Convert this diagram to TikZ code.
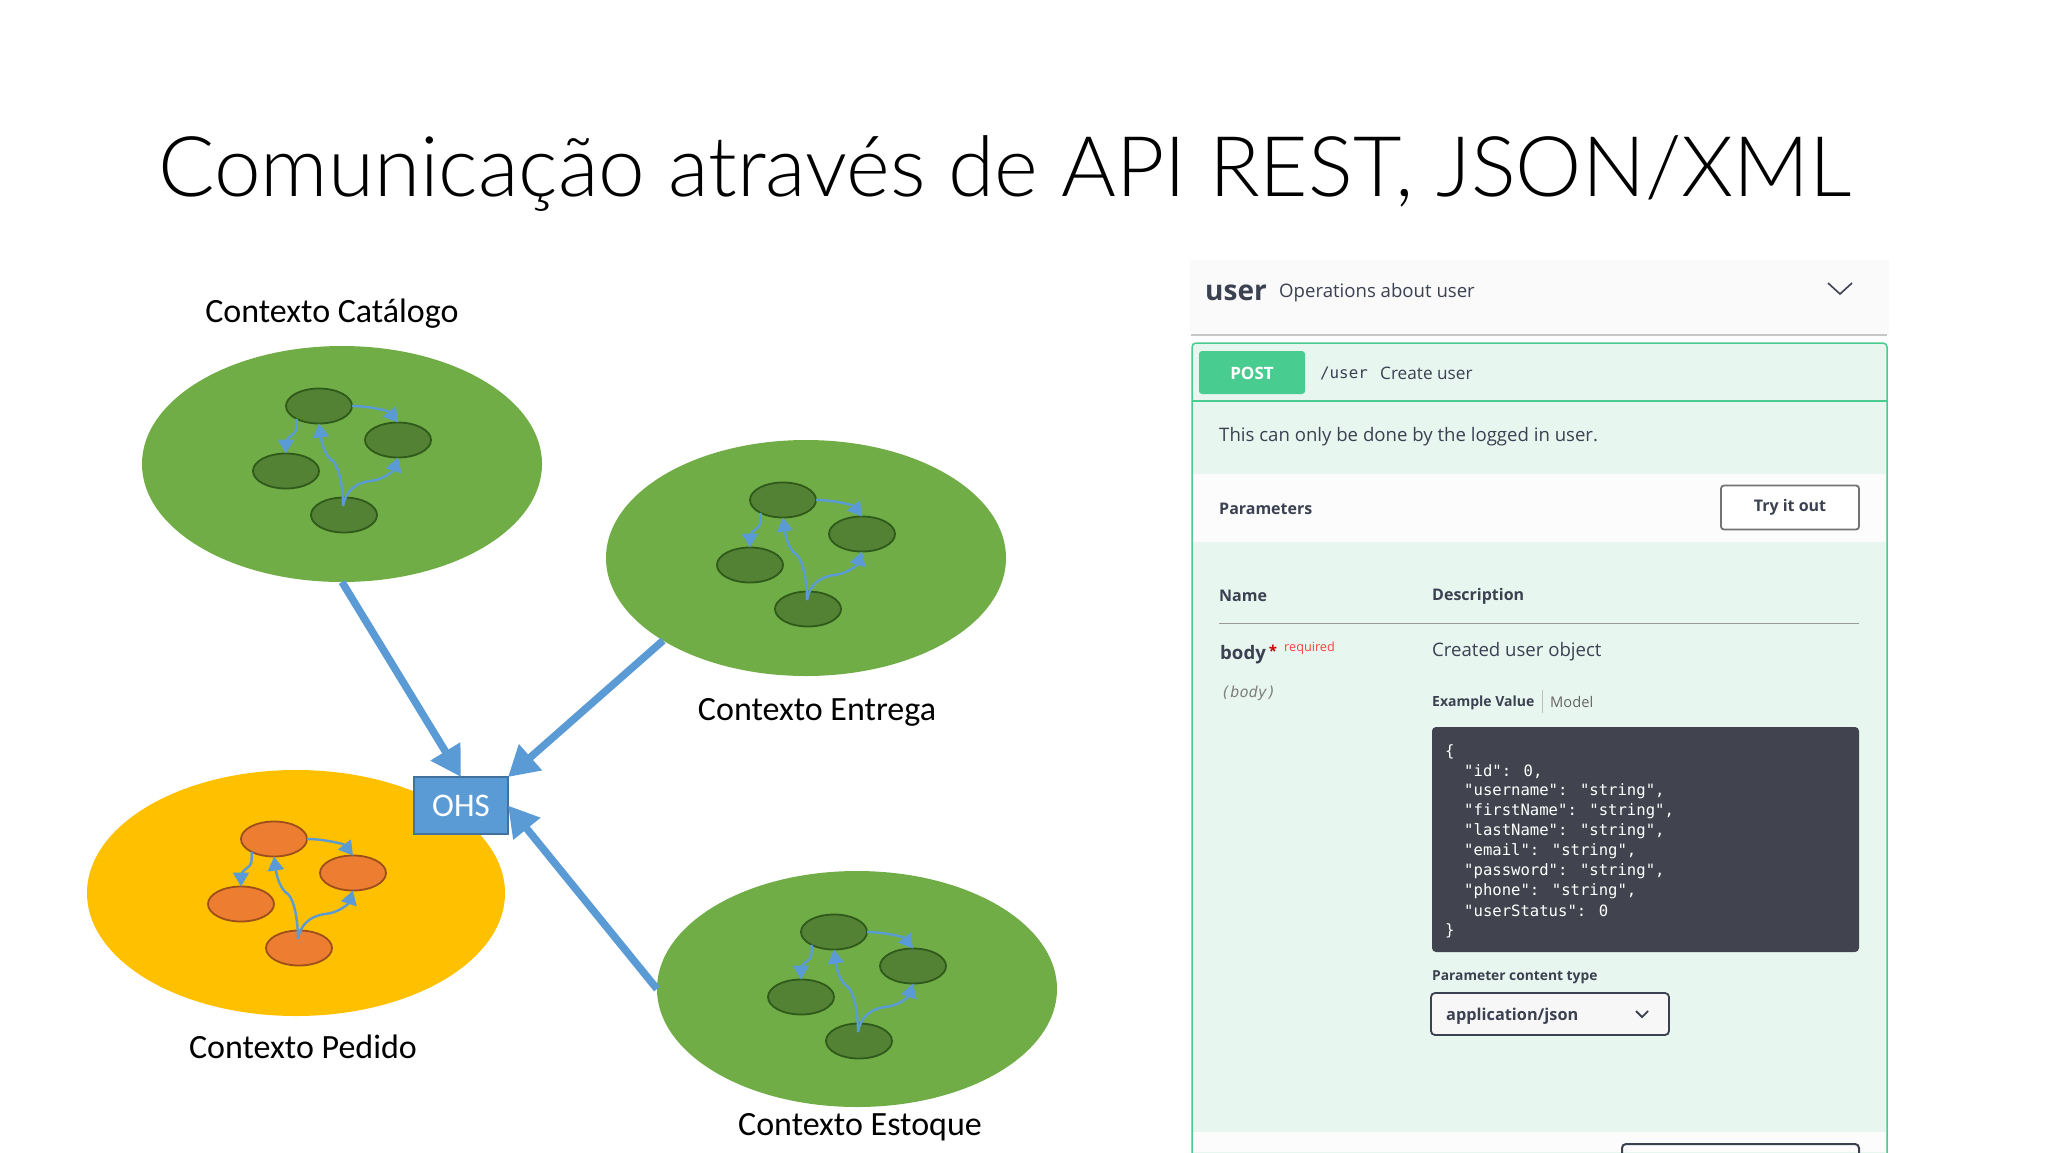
\documentclass[tikz,border=0pt]{standalone}
\usepackage{fontspec}
\setmainfont{Carlito}
\newfontfamily\titlefont{Lato Light}
\newfontfamily\uifont{Open Sans}
\newfontfamily\codefont{DejaVu Sans Mono}
\usetikzlibrary{arrows.meta,shapes.geometric}
\definecolor{bigGreen}{HTML}{70AD47}
\definecolor{smallGreen}{HTML}{548235}
\definecolor{edgeGreen}{HTML}{2F5A1A}
\definecolor{bigYellow}{HTML}{FFC000}
\definecolor{smallOrange}{HTML}{ED7D31}
\definecolor{edgeOrange}{HTML}{9C4F1B}
\definecolor{arrowBlue}{HTML}{5B9BD5}
\definecolor{ohsEdge}{HTML}{41719C}
\definecolor{postGreen}{HTML}{49CC90}
\definecolor{postBg}{HTML}{E8F6F0}
\definecolor{inkDark}{HTML}{3B4151}
\definecolor{codeBg}{HTML}{41444E}
\tikzset{
  bigblob/.style={ellipse, inner sep=0pt, outer sep=0pt, minimum width=400pt, minimum height=236pt},
  smallblob/.style={ellipse, draw, line width=1.8pt, inner sep=0pt, outer sep=0pt, minimum width=66pt, minimum height=35pt},
  mainarrow/.style={draw=arrowBlue, line width=7.5pt, -{Triangle[length=30pt,width=33pt]}},
  innerarrow/.style={draw=arrowBlue, line width=2.4pt, -{Triangle[length=14pt,width=16pt]}},
  ctxlabel/.style={font=\fontsize{34}{40}\selectfont, text=black, inner sep=0pt},
  uilabel/.style={anchor=west, inner sep=0pt, text=inkDark, font=\uifont\fontsize{18.6}{23}\selectfont},
  uibold/.style={uilabel, font=\uifont\bfseries\fontsize{16}{20}\selectfont},
  codeline/.style={anchor=west, inner sep=0pt, text=white, font=\codefont\fontsize{15.6}{18}\selectfont},
}
\begin{document}
\begin{tikzpicture}[x=1pt, y=-1pt]
\useasboundingbox (0,0) rectangle (2048,1152);
\clip (0,0) rectangle (2048,1152);
\node[inner sep=0pt, font=\titlefont\fontsize{83.7}{100}\selectfont, text=black] (title) at (1005,174) {Comunicação através de API REST, JSON/XML};
% contexts
\node[bigblob, fill=bigGreen] (catalogo) at (342,464) {};
\node[bigblob, fill=bigGreen] (entrega) at (806,558) {};
\node[bigblob, fill=bigGreen] (estoque) at (857,989) {};
\node[bigblob, fill=bigYellow, minimum width=418pt, minimum height=246pt] (pedido) at (296,893) {};
\node[ctxlabel] (catalogolabel) at (332,314) {Contexto Catálogo};
\node[ctxlabel] (entregalabel) at (817,712) {Contexto Entrega};
\node[ctxlabel] (pedidolabel) at (303,1047) {Contexto Pedido};
\node[ctxlabel] (estoquelabel) at (860,1127) {Contexto Estoque};
\foreach \nm/\bx/\by/\blobcol/\edgecol in {cat/344/515/smallGreen/edgeGreen, ent/808/609/smallGreen/edgeGreen, est/859/1041/smallGreen/edgeGreen, ped/299/948/smallOrange/edgeOrange} {
  \begin{scope}[shift={(\bx,\by)}]
    \node[smallblob, fill=\blobcol, draw=\edgecol] (\nm-top) at (-25,-109) {};
    \node[smallblob, fill=\blobcol, draw=\edgecol] (\nm-right) at (54,-75) {};
    \node[smallblob, fill=\blobcol, draw=\edgecol] (\nm-left) at (-58,-44) {};
    \node[smallblob, fill=\blobcol, draw=\edgecol] (\nm-bottom) at (0,0) {};
    \coordinate (\nm-start) at (-1,-9);
    \draw[innerarrow] (\nm-top.east) .. controls (25,-109) and (45,-104) .. (\nm-right.north);
    \draw[innerarrow] (\nm-top.210) .. controls (-47,-84) and (-48,-83) .. (-52,-80) .. controls (-57,-77) and (-58,-72) .. (\nm-left.north);
    \draw[innerarrow] (\nm-start) .. controls (-1,-25) and (-4,-47) .. (-11,-54) .. controls (-18,-58) and (-22,-70) .. (\nm-top.south);
    \draw[innerarrow] (\nm-start) .. controls (1,-22) and (10,-32) .. (26,-34) .. controls (40,-35) and (50,-45) .. (\nm-right.south);
  \end{scope}
}
\node[draw=ohsEdge, line width=1.6pt, fill=arrowBlue, text=white, inner sep=0pt, outer sep=0pt, minimum width=94pt, minimum height=57pt, font=\fontsize{33}{38}\selectfont] (ohs) at (461,805.5) {OHS};
\draw[mainarrow] (catalogo.south) -- (ohs.north);
\draw[mainarrow] (entrega.210) -- (ohs.north east);
\draw[mainarrow] (estoque.west) -- (ohs.east);
% swagger panel
\fill[black!2] (1190,260) rectangle (1889,335);
\draw[black!22, line width=1.5pt] (1191,335) -- (1887,335);
\node[uilabel, font=\uifont\bfseries\fontsize{28}{34}\selectfont] (usertag) at (1205,293) {user};
\node[uilabel] (userdesc) at (1279,293) {Operations about user};
\draw[inkDark, line width=1.6pt] (1828,283) -- (1840,294) -- (1852,283);
\draw[postGreen, fill=postBg, line width=1.5pt, rounded corners=4pt] (1192,343) rectangle (1887,1175);
\fill[postGreen, rounded corners=3pt] (1199,351) rectangle (1305,394);
\node[inner sep=0pt, text=white, font=\uifont\bfseries\fontsize{17}{22}\selectfont] (post) at (1252,373) {POST};
\node[uilabel, font=\codefont\fontsize{15.8}{18}\selectfont] (path) at (1320,373) {/user};
\node[uilabel, font=\uifont\fontsize{17.2}{22}\selectfont] (summary) at (1380,373) {Create user};
\draw[postGreen, line width=1.5pt] (1192,401) -- (1887,401);
\node[uilabel] (note) at (1219,437) {This can only be done by the logged in user.};
\fill[black!1] (1193,474) rectangle (1886,542);
\node[uibold] (params) at (1219,509) {Parameters};
\node[draw=black!55, line width=1.8pt, rounded corners=3pt, fill=white, inner sep=0pt, outer sep=0pt, minimum width=138pt, minimum height=44pt, text=inkDark, font=\uifont\bfseries\fontsize{16}{21}\selectfont] (tryit) at (1790,507.5) {Try it out};
\node[uibold] (namehead) at (1219,596) {Name};
\node[uibold] (deschead) at (1432,596) {Description};
\draw[black!40, line width=1pt] (1219,623) -- (1859,623);
\node[uilabel, font=\uifont\bfseries\fontsize{18.6}{25}\selectfont] (bodyname) at (1220,655) {body};
\node[inner sep=0pt, text=red!80!black, font=\uifont\bfseries\fontsize{15}{18}\selectfont] (star) at (1273,651) {*};
\node[uilabel, text=red!75, font=\uifont\fontsize{12.7}{15}\selectfont] (required) at (1284,648) {required};
\node[uilabel] (bodydesc) at (1432,652) {Created user object};
\node[uilabel, text=black!50, font=\codefont\itshape\fontsize{15.2}{18}\selectfont] (bodyin) at (1221,693) {(body)};
\node[uibold, font=\uifont\bfseries\fontsize{14}{20}\selectfont] (examplev) at (1432,703) {Example Value};
\draw[black!25, line width=1pt] (1542,690) -- (1542,713);
\node[uilabel, text=black!60, font=\uifont\fontsize{14.7}{20}\selectfont] (model) at (1550,702) {Model};
\fill[codeBg, rounded corners=4pt] (1432,727) rectangle (1859,952);
\foreach \txt [count=\i from 0] in {\{,  "id": 0{,},  "username": "string"{,},  "firstName": "string"{,},  "lastName": "string"{,},  "email": "string"{,},  "password": "string"{,},  "phone": "string"{,},  "userStatus": 0,\}} {
  \pgfmathsetmacro{\rowy}{752+19.85*\i}
  \ifnum\i=0 \node[codeline] (code\i) at (1445,\rowy) {\txt};
  \else\ifnum\i=9 \node[codeline] (code\i) at (1445,\rowy) {\txt};
  \else \node[codeline] (code\i) at (1464,\rowy) {\txt};
  \fi\fi
}
\node[uibold, font=\uifont\bfseries\fontsize{13.8}{20}\selectfont] (ctype) at (1432,977) {Parameter content type};
\node[draw=inkDark, line width=1.8pt, rounded corners=4pt, fill=black!3, inner sep=0pt, outer sep=0pt, minimum width=238pt, minimum height=42pt] (select) at (1550,1014) {};
\node[uibold, font=\uifont\bfseries\fontsize{16.3}{22}\selectfont] (selecttxt) at (1446,1016) {application/json};
\draw[inkDark, line width=1.8pt] (1636,1011) -- (1642,1017) -- (1648,1011);
\fill[black!1] (1193,1132) rectangle (1886,1152);
\draw[inkDark, line width=2pt, rounded corners=4pt] (1622,1170) rectangle (1859,1144);
\end{tikzpicture}
\end{document}
